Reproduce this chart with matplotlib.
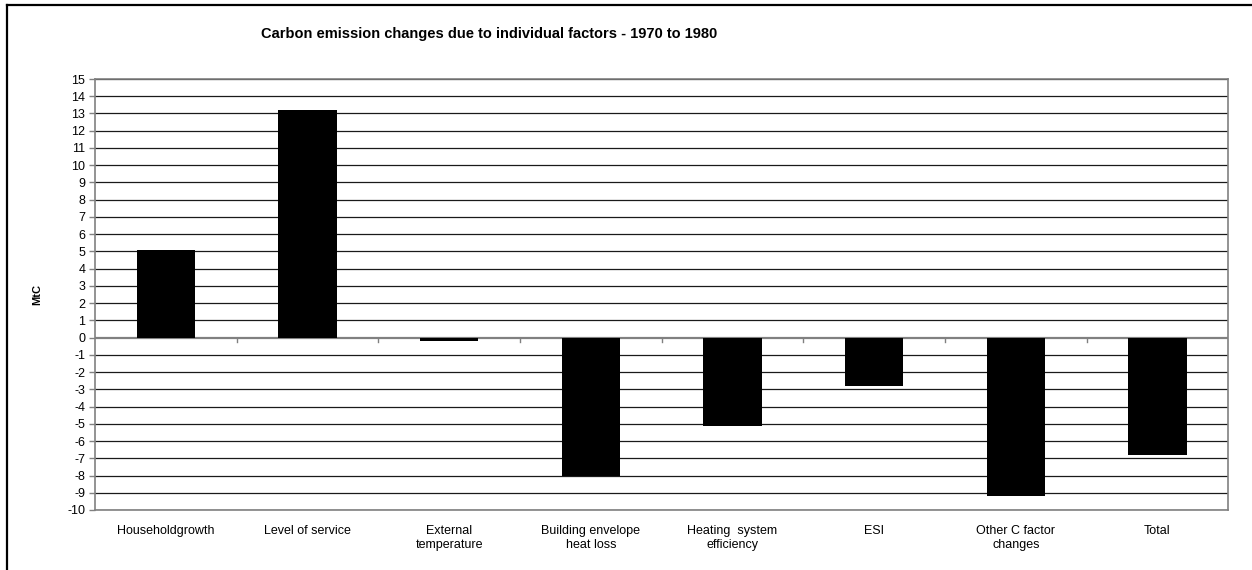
import matplotlib.pyplot as plt
from matplotlib.lines import Line2D
import numpy as np

plt.rcParams['font.family'] = ['Liberation Sans', 'DejaVu Sans']

# factor contributions, MtC
factors = ['Householdgrowth', 'Level of service', 'External\ntemperature',
           'Building envelope\nheat loss', 'Heating  system\nefficiency', 'ESI',
           'Other C factor\nchanges', 'Total']
changes = [5.1, 13.2, -0.2, -8.0, -5.1, -2.8, -9.2, -6.8]
yticks = list(range(-10, 16))

fig = plt.figure(figsize=(12.52, 5.70), dpi=100)
ax = fig.add_axes([0.0759, 0.1053, 0.9052, 0.7561])

x = np.arange(len(factors))
ax.bar(x, changes, width=0.41, color='black', zorder=3)

ax.set_xlim(-0.5, len(factors) - 0.5)
ax.set_ylim(-10, 15)
ax.set_yticks(yticks)
ax.set_yticklabels([str(v) for v in yticks], fontsize=9)
for v in yticks:
    if v != 0:
        ax.axhline(v, color='#1a1a1a', lw=0.9, zorder=1)

# category axis sits at zero with ticks between categories
ax.axhline(0, color='#808080', lw=1.6, zorder=2)
for b in np.arange(0.5, len(factors) - 0.5):
    ax.plot([b, b], [0, -0.25], color='#808080', lw=1.0, zorder=2, clip_on=False)

ax.set_xticks(x)
ax.set_xticklabels(factors, fontsize=9, linespacing=1.2)
ax.tick_params(axis='x', length=0, pad=11)
ax.tick_params(axis='y', length=4, width=1, color='#808080', pad=3)

for s in ax.spines.values():
    s.set_color('#808080')
    s.set_linewidth(1.2)

ax.set_ylabel('MtC', fontsize=8, fontweight='bold', labelpad=18)
fig.text(0.391, 0.94, 'Carbon emission changes due to individual factors - 1970 to 1980',
         ha='center', va='center', fontsize=10.5, fontweight='bold')

# outer frame
fig.add_artist(Line2D([7 / 1252, 7 / 1252], [0, 1 - 5 / 570], color='black', lw=1.6))
fig.add_artist(Line2D([7 / 1252, 1], [1 - 5 / 570, 1 - 5 / 570], color='black', lw=1.6))

fig.savefig('out.png', dpi=100)
